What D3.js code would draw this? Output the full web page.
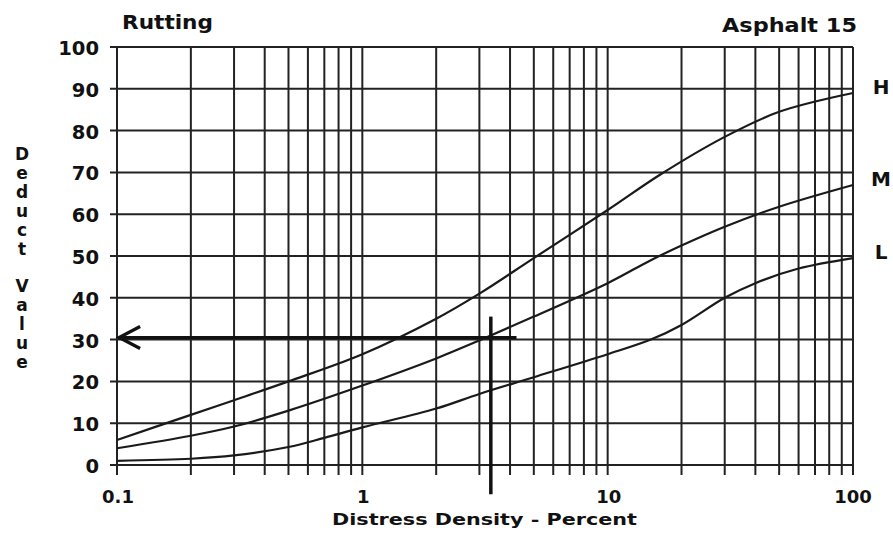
<!DOCTYPE html>
<html>
<head>
<meta charset="utf-8">
<script src="https://cdn.jsdelivr.net/npm/d3@7"></script>
<style>
  html, body { margin: 0; padding: 0; background: #fff; }
  svg { display: block; }
  text { font-family: "DejaVu Sans", "Liberation Sans", sans-serif; font-weight: bold; fill: #111; }
</style>
</head>
<body>
<svg id="chart" width="893" height="534"></svg>
<script>
// Rutting deduct value curves (asphalt, distress type 15)
const chartTitle = "Rutting";
const chartCode = "Asphalt 15";
const xTitle = "Distress Density - Percent";
const yTitle = "Deduct Value";

const xTickValues = [0.1, 1, 10, 100];
const xTickLabels = ["0.1", "1", "10", "100"];
const yTickValues = [0, 10, 20, 30, 40, 50, 60, 70, 80, 90, 100];

// High severity
const densityH = [0.1, 0.2, 0.3, 0.5, 1, 2, 3, 5, 10, 16.4, 30, 50, 100];
const deductH  = [6, 12, 15.5, 20, 26.5, 35, 41, 49.5, 61, 69.5, 78.5, 84.5, 89];
// Medium severity
const densityM = [0.1, 0.2, 0.3, 0.5, 1, 2, 3, 5, 10, 15, 20, 30, 50, 100];
const deductM  = [4, 7, 9.2, 13, 19, 25.5, 29.8, 35.5, 43.5, 49, 52.5, 57, 61.8, 67];
// Low severity
const densityL = [0.1, 0.2, 0.3, 0.5, 0.7, 1, 2, 3, 5, 10, 15, 20, 30, 40, 60, 100];
const deductL  = [1, 1.5, 2.3, 4.3, 6.5, 9, 13.5, 17, 21, 26.5, 30, 33.5, 40, 43.5, 47, 49.5];

const severityNames = ["H", "M", "L"];

// Worked example: density 3.34 % read across to a deduct value of about 30
const exampleDensity = 3.34;
const exampleDeduct = 30.5;
const exampleStart = 4.25;   // right end of the read-across arrow
const exampleTip = 0.102;    // arrow tip at the left axis
const exampleTop = 35.5;     // top of the density marker
const exampleBottom = -7;    // marker runs below the axis

const svg = d3.select("#chart");
const x = d3.scaleLog().domain([0.1, 100]).range([117, 853]);
const y = d3.scaleLinear().domain([0, 100]).range([465, 47]);

const ink = "#222";
const grid = svg.append("g").attr("stroke", ink).attr("stroke-width", 2).attr("fill", "none");

// vertical log grid, each line running a little below the axis
grid.selectAll("line.v").data(x.ticks()).join("line")
  .attr("class", "v")
  .attr("x1", d => x(d)).attr("x2", d => x(d))
  .attr("y1", y(100)).attr("y2", y(0) + 10);

// horizontal grid with short ticks to the left
grid.selectAll("line.h").data(yTickValues).join("line")
  .attr("class", "h")
  .attr("x1", x(0.1) - 7).attr("x2", x(100))
  .attr("y1", d => y(d)).attr("y2", d => y(d));

// y tick labels
svg.append("g").selectAll("text").data(yTickValues).join("text")
  .attr("x", 99).attr("y", d => y(d) + 8)
  .attr("text-anchor", "end")
  .attr("font-size", 19)
  .attr("textLength", d => String(d).length * 13.6)
  .attr("lengthAdjust", "spacingAndGlyphs")
  .text(d => d);

// x tick labels
svg.append("g").selectAll("text").data(xTickValues).join("text")
  .attr("x", d => x(d) + (d === 100 ? 0 : 1)).attr("y", 503)
  .attr("text-anchor", "middle")
  .attr("font-size", 18)
  .text((d, i) => xTickLabels[i]);

// titles
svg.append("text").attr("x", 122).attr("y", 29).attr("font-size", 19)
  .attr("textLength", 91).attr("lengthAdjust", "spacingAndGlyphs").text(chartTitle);
svg.append("text").attr("x", 722).attr("y", 32).attr("font-size", 19)
  .attr("textLength", 135).attr("lengthAdjust", "spacingAndGlyphs").text(chartCode);
svg.append("text").attr("x", 332).attr("y", 525).attr("font-size", 16.5)
  .attr("textLength", 305).attr("lengthAdjust", "spacingAndGlyphs").text(xTitle);

// stacked vertical axis title
svg.append("g").selectAll("text").data(yTitle.split("")).join("text")
  .attr("x", 22).attr("y", (d, i) => 160 + i * 18.9)
  .attr("text-anchor", "middle")
  .attr("font-size", 17)
  .text(d => d);

// severity curves
const line = d3.line().x(d => x(d[0])).y(d => y(d[1])).curve(d3.curveCatmullRom.alpha(0.5));
const series = [
  d3.zip(densityH, deductH),
  d3.zip(densityM, deductM),
  d3.zip(densityL, deductL)
];
svg.append("g").selectAll("path").data(series).join("path")
  .attr("d", line)
  .attr("fill", "none").attr("stroke", "#1a1a1a").attr("stroke-width", 2.2);

// severity labels at the curve ends
svg.append("g").selectAll("text").data(series).join("text")
  .attr("x", 881).attr("y", d => y(d[d.length - 1][1]) + 1)
  .attr("text-anchor", "middle")
  .attr("font-size", 20)
  .text((d, i) => severityNames[i]);

// worked example marker and arrow
const ex = svg.append("g").attr("stroke", "#111").attr("fill", "none").attr("stroke-linecap", "butt");
ex.append("line")
  .attr("x1", x(exampleDensity)).attr("x2", x(exampleDensity))
  .attr("y1", y(exampleTop)).attr("y2", y(exampleBottom))
  .attr("stroke-width", 3.5);
ex.append("line")
  .attr("x1", x(exampleStart)).attr("x2", x(exampleTip))
  .attr("y1", y(exampleDeduct)).attr("y2", y(exampleDeduct))
  .attr("stroke-width", 3.2);
ex.append("path")
  .attr("d", `M${x(exampleTip) + 21},${y(exampleDeduct) - 11} L${x(exampleTip)},${y(exampleDeduct)} L${x(exampleTip) + 21},${y(exampleDeduct) + 11}`)
  .attr("stroke-width", 3.2).attr("stroke-linejoin", "miter");
</script>
</body>
</html>
